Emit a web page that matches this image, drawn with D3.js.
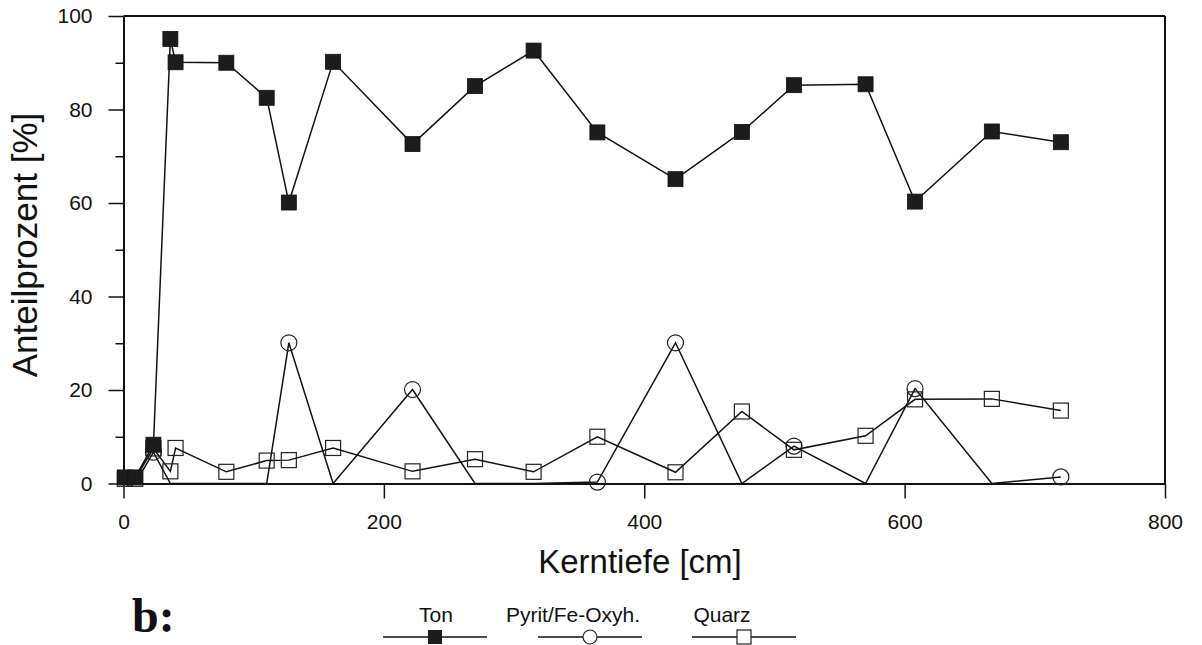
<!DOCTYPE html>
<html><head><meta charset="utf-8">
<script src="https://cdn.jsdelivr.net/npm/d3@7"></script>
<style>
html,body{margin:0;padding:0;background:#fff;}
svg{display:block;font-family:"Liberation Sans",Arial,Helvetica,sans-serif;}
</style></head>
<body>
<svg id="chart" width="1202" height="645"></svg>
<script>
// ---- data ----
const depth = [1, 9, 23, 36, 40, 79, 110, 127, 161, 222, 270, 315, 364, 424, 475, 515, 570, 608, 667, 720];
const ton   = [1.3, 1.3, 8.3, 95.1, 90.1, 90.0, 82.5, 60.1, 90.2, 72.6, 85.0, 92.6, 75.1, 65.1, 75.2, 85.2, 85.4, 60.3, 75.3, 73.0];
const pyrit = [0, 0, 6.7, 0, 0, 0, 0, 30.1, 0, 20.1, 0, 0, 0.3, 30.1, 0, 8.0, 0, 20.3, 0, 1.4];
const quarz = [1.0, 1.0, 7.5, 2.6, 7.6, 2.5, 4.9, 5.0, 7.6, 2.6, 5.2, 2.5, 10.0, 2.4, 15.4, 7.2, 10.2, 18.0, 18.1, 15.6];
const xTicks = [0, 200, 400, 600, 800];
const yTicks = [0, 20, 40, 60, 80, 100];
const yMinorTicks = [10, 30, 50, 70, 90];
const seriesNames = ["Ton", "Pyrit/Fe-Oxyh.", "Quarz"];
const xTitle = "Kerntiefe [cm]";
const yTitle = "Anteilprozent [%]";
const panelLabel = "b:";

const svg = d3.select("#chart");
const x = d3.scaleLinear().domain([0, 800]).range([123.5, 1165]);
const y = d3.scaleLinear().domain([0, 100]).range([483.5, 16]);

// frame (top + right)
svg.append("line").attr("x1", x(0)).attr("x2", x(800)).attr("y1", y(100)).attr("y2", y(100))
  .attr("stroke", "#111").attr("stroke-width", 2);
svg.append("line").attr("x1", x(800)).attr("x2", x(800)).attr("y1", y(100)).attr("y2", y(0))
  .attr("stroke", "#111").attr("stroke-width", 2);

// axes
const gx = svg.append("g").attr("transform", `translate(0,${y(0)})`)
  .call(d3.axisBottom(x).tickValues(xTicks).tickSize(15).tickSizeOuter(0).tickPadding(16));
const gy = svg.append("g").attr("transform", `translate(${x(0)},0)`)
  .call(d3.axisLeft(y).tickValues(yTicks).tickSize(15).tickSizeOuter(0).tickPadding(16));
const gym = svg.append("g").attr("transform", `translate(${x(0)},0)`)
  .call(d3.axisLeft(y).tickValues(yMinorTicks).tickSize(8).tickFormat(""));
gym.select(".domain").remove();
[gx, gy, gym].forEach(g => {
  g.selectAll(".domain").attr("stroke", "#111").attr("stroke-width", 2);
  g.selectAll(".tick line").attr("stroke", "#111").attr("stroke-width", 1.5);
  g.selectAll(".tick text").attr("fill", "#111").style("font-size", "21px")
   .style("font-family", "'Liberation Sans',Arial,sans-serif");
});

// titles
svg.append("text").attr("x", 640).attr("y", 573).attr("text-anchor", "middle")
  .style("font-size", "33px").attr("fill", "#111").text(xTitle);
svg.append("text").attr("transform", "translate(37,245) rotate(-90)").attr("text-anchor", "middle")
  .style("font-size", "35px").attr("fill", "#111").text(yTitle);
svg.append("text").attr("x", 132).attr("y", 632)
  .style("font-family", "'Liberation Serif','Times New Roman',serif").style("font-weight", "bold")
  .style("font-size", "48px").attr("fill", "#111").text(panelLabel);

// data lines
const idx = d3.range(depth.length);
const line = vals => d3.line().x(i => x(depth[i])).y(i => y(vals[i]))(idx);
svg.append("path").attr("d", line(quarz)).attr("fill", "none").attr("stroke", "#111").attr("stroke-width", 1.5);
svg.append("path").attr("d", line(pyrit)).attr("fill", "none").attr("stroke", "#111").attr("stroke-width", 1.5);
svg.append("path").attr("d", line(ton)).attr("fill", "none").attr("stroke", "#111").attr("stroke-width", 1.5);

// markers
const ms = 15;
svg.append("g").selectAll("rect").data(idx).join("rect")
  .attr("x", i => x(depth[i]) - ms / 2).attr("y", i => y(quarz[i]) - ms / 2)
  .attr("width", ms).attr("height", ms).attr("fill", "none").attr("stroke", "#222").attr("stroke-width", 1.2);
svg.append("g").selectAll("circle").data(idx.filter(i => pyrit[i] > 0)).join("circle")
  .attr("cx", i => x(depth[i])).attr("cy", i => y(pyrit[i])).attr("r", 8)
  .attr("fill", "none").attr("stroke", "#222").attr("stroke-width", 1.2);
svg.append("g").selectAll("rect").data(idx).join("rect")
  .attr("x", i => x(depth[i]) - ms / 2).attr("y", i => y(ton[i]) - ms / 2)
  .attr("width", ms).attr("height", ms).attr("fill", "#1c1c1c").attr("stroke", "#111").attr("stroke-width", 0.8);

// legend
const legX = [383, 538, 692];
const legTextX = [436, 573, 722];
const lg = svg.append("g");
seriesNames.forEach((name, k) => {
  lg.append("text").attr("x", legTextX[k]).attr("y", 622).attr("text-anchor", "middle")
    .style("font-size", "21px").attr("fill", "#111").text(name);
  lg.append("line").attr("x1", legX[k]).attr("x2", legX[k] + 104).attr("y1", 637).attr("y2", 637)
    .attr("stroke", "#111").attr("stroke-width", 1.5);
  const cx = legX[k] + 52;
  if (k === 0) lg.append("rect").attr("x", cx - 7).attr("y", 630).attr("width", 14).attr("height", 14).attr("fill", "#1c1c1c");
  if (k === 1) lg.append("circle").attr("cx", cx).attr("cy", 637).attr("r", 7).attr("fill", "#fff").attr("stroke", "#222").attr("stroke-width", 1.2);
  if (k === 2) lg.append("rect").attr("x", cx - 7).attr("y", 630).attr("width", 14).attr("height", 14).attr("fill", "#fff").attr("stroke", "#222").attr("stroke-width", 1.2);
});
</script>
</body></html>
